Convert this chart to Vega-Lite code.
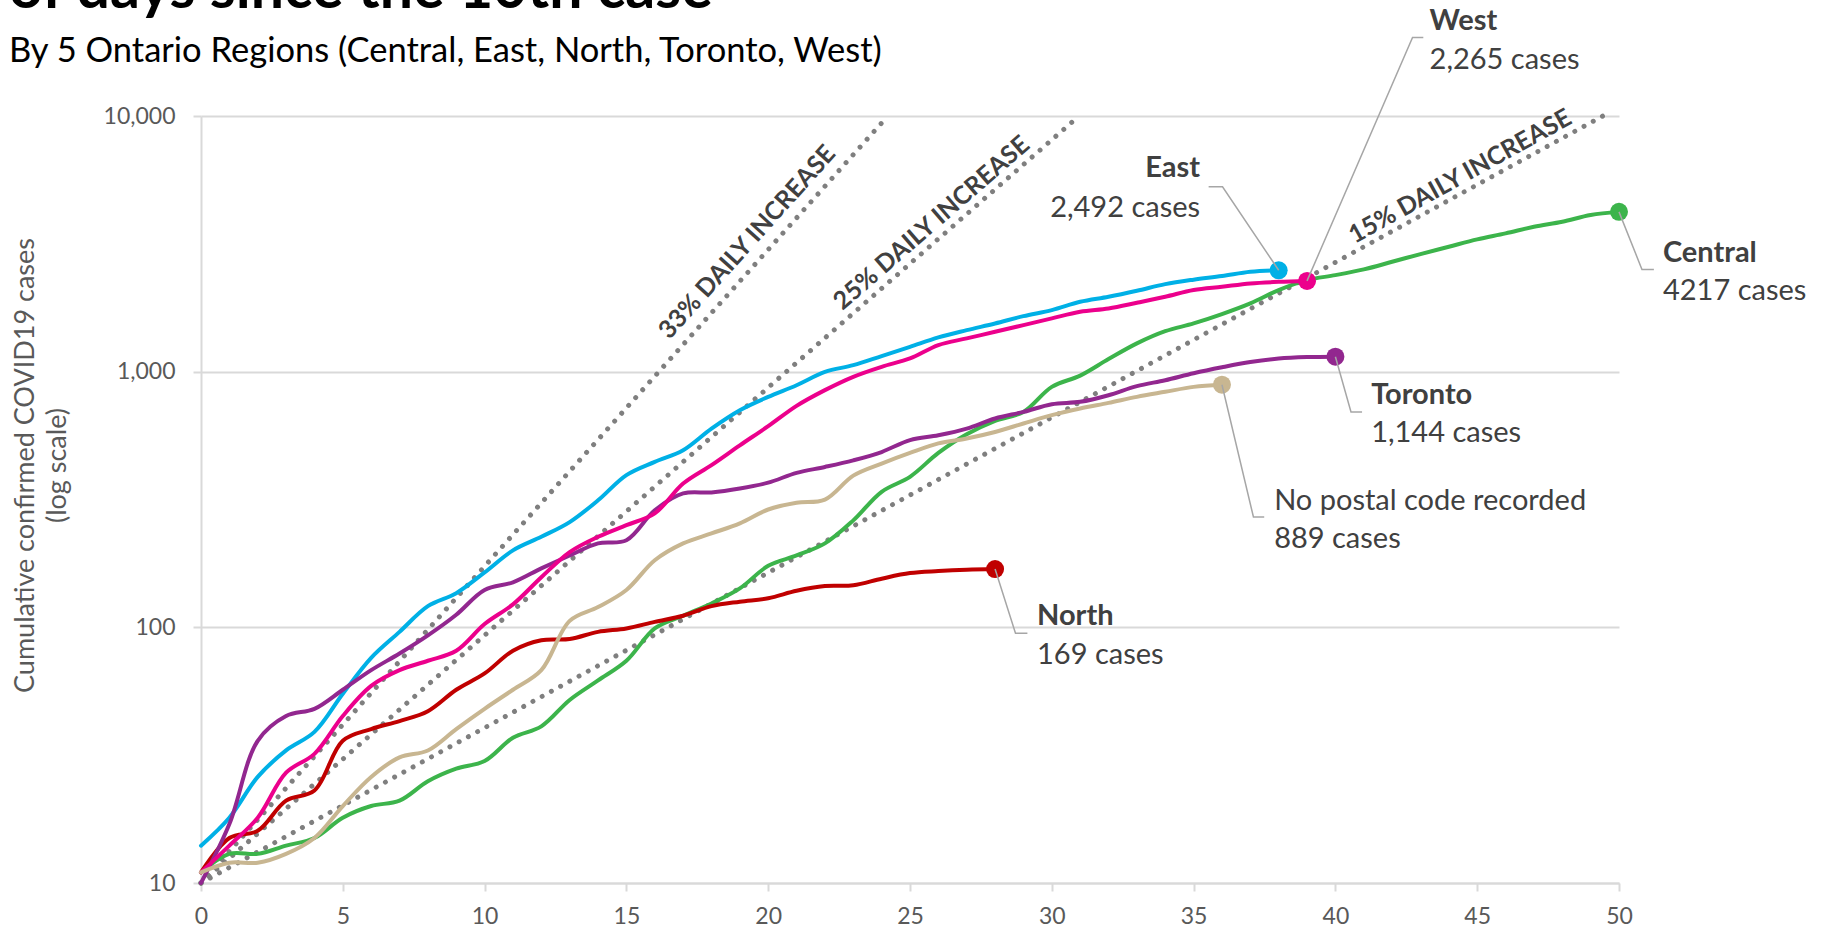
{
  "$schema": "https://vega.github.io/schema/vega-lite/v6.json",
  "width": 1418,
  "height": 767,
  "autosize": {"type": "none"},
  "padding": {"left": 201, "top": 116, "right": 206, "bottom": 47},
  "background": "#ffffff",
  "title": {
    "text": "of days since the 10th case",
    "subtitle": "By 5 Ontario Regions (Central, East, North, Toronto, West)",
    "anchor": "start",
    "frame": "group",
    "dx": -192,
    "offset": -62,
    "font": "Lato",
    "fontSize": 59,
    "fontWeight": "bold",
    "color": "#000000",
    "subtitleFont": "Lato",
    "subtitleFontSize": 34.5,
    "subtitleColor": "#000000",
    "subtitlePadding": 15
  },
  "config": {
    "font": "Lato",
    "view": {"stroke": null},
    "axis": {
      "domainColor": "#d9d9d9",
      "domainWidth": 2,
      "tickColor": "#d9d9d9",
      "tickWidth": 2,
      "tickSize": 8,
      "gridColor": "#d9d9d9",
      "gridWidth": 2,
      "labelColor": "#595959",
      "labelFont": "Lato",
      "labelFontSize": 23,
      "titleColor": "#595959",
      "titleFont": "Lato",
      "titleFontWeight": "normal"
    }
  },
  "datasets": {
    "cases": [
      {"region":"Central","day":0,"cases":11},{"region":"Central","day":1,"cases":13},{"region":"Central","day":2,"cases":13},{"region":"Central","day":3,"cases":14},{"region":"Central","day":4,"cases":15},{"region":"Central","day":5,"cases":18},{"region":"Central","day":6,"cases":20},{"region":"Central","day":7,"cases":21},{"region":"Central","day":8,"cases":25},{"region":"Central","day":9,"cases":28},{"region":"Central","day":10,"cases":30},{"region":"Central","day":11,"cases":37},{"region":"Central","day":12,"cases":41},{"region":"Central","day":13,"cases":52},{"region":"Central","day":14,"cases":62},{"region":"Central","day":15,"cases":74},{"region":"Central","day":16,"cases":99},{"region":"Central","day":17,"cases":111},{"region":"Central","day":18,"cases":124},{"region":"Central","day":19,"cases":142},{"region":"Central","day":20,"cases":174},{"region":"Central","day":21,"cases":191},{"region":"Central","day":22,"cases":213},{"region":"Central","day":23,"cases":262},{"region":"Central","day":24,"cases":339},{"region":"Central","day":25,"cases":388},{"region":"Central","day":26,"cases":481},{"region":"Central","day":27,"cases":569},{"region":"Central","day":28,"cases":642},{"region":"Central","day":29,"cases":696},{"region":"Central","day":30,"cases":872},{"region":"Central","day":31,"cases":965},{"region":"Central","day":32,"cases":1120},{"region":"Central","day":33,"cases":1290},{"region":"Central","day":34,"cases":1440},{"region":"Central","day":35,"cases":1544},{"region":"Central","day":36,"cases":1679},{"region":"Central","day":37,"cases":1849},{"region":"Central","day":38,"cases":2085},{"region":"Central","day":39,"cases":2280},{"region":"Central","day":40,"cases":2385},{"region":"Central","day":41,"cases":2512},{"region":"Central","day":42,"cases":2690},{"region":"Central","day":43,"cases":2884},{"region":"Central","day":44,"cases":3081},{"region":"Central","day":45,"cases":3291},{"region":"Central","day":46,"cases":3474},{"region":"Central","day":47,"cases":3688},{"region":"Central","day":48,"cases":3859},{"region":"Central","day":49,"cases":4099},{"region":"Central","day":50,"cases":4217},
      {"region":"East","day":0,"cases":14},{"region":"East","day":1,"cases":18},{"region":"East","day":2,"cases":26},{"region":"East","day":3,"cases":33},{"region":"East","day":4,"cases":39},{"region":"East","day":5,"cases":55},{"region":"East","day":6,"cases":76},{"region":"East","day":7,"cases":96},{"region":"East","day":8,"cases":121},{"region":"East","day":9,"cases":136},{"region":"East","day":10,"cases":164},{"region":"East","day":11,"cases":200},{"region":"East","day":12,"cases":226},{"region":"East","day":13,"cases":258},{"region":"East","day":14,"cases":314},{"region":"East","day":15,"cases":394},{"region":"East","day":16,"cases":444},{"region":"East","day":17,"cases":493},{"region":"East","day":18,"cases":599},{"region":"East","day":19,"cases":707},{"region":"East","day":20,"cases":797},{"region":"East","day":21,"cases":885},{"region":"East","day":22,"cases":998},{"region":"East","day":23,"cases":1060},{"region":"East","day":24,"cases":1150},{"region":"East","day":25,"cases":1250},{"region":"East","day":26,"cases":1361},{"region":"East","day":27,"cases":1453},{"region":"East","day":28,"cases":1544},{"region":"East","day":29,"cases":1649},{"region":"East","day":30,"cases":1741},{"region":"East","day":31,"cases":1876},{"region":"East","day":32,"cases":1963},{"region":"East","day":33,"cases":2072},{"region":"East","day":34,"cases":2200},{"region":"East","day":35,"cases":2290},{"region":"East","day":36,"cases":2365},{"region":"East","day":37,"cases":2459},{"region":"East","day":38,"cases":2492},
      {"region":"North","day":0,"cases":11},{"region":"North","day":1,"cases":15},{"region":"North","day":2,"cases":16},{"region":"North","day":3,"cases":21},{"region":"North","day":4,"cases":23},{"region":"North","day":5,"cases":36},{"region":"North","day":6,"cases":40},{"region":"North","day":7,"cases":43},{"region":"North","day":8,"cases":47},{"region":"North","day":9,"cases":57},{"region":"North","day":10,"cases":66},{"region":"North","day":11,"cases":81},{"region":"North","day":12,"cases":89},{"region":"North","day":13,"cases":90},{"region":"North","day":14,"cases":96},{"region":"North","day":15,"cases":99},{"region":"North","day":16,"cases":105},{"region":"North","day":17,"cases":111},{"region":"North","day":18,"cases":121},{"region":"North","day":19,"cases":126},{"region":"North","day":20,"cases":130},{"region":"North","day":21,"cases":139},{"region":"North","day":22,"cases":145},{"region":"North","day":23,"cases":146},{"region":"North","day":24,"cases":155},{"region":"North","day":25,"cases":163},{"region":"North","day":26,"cases":166},{"region":"North","day":27,"cases":168},{"region":"North","day":28,"cases":169},
      {"region":"Toronto","day":0,"cases":10},{"region":"Toronto","day":1,"cases":17},{"region":"Toronto","day":2,"cases":36},{"region":"Toronto","day":3,"cases":45},{"region":"Toronto","day":4,"cases":48},{"region":"Toronto","day":5,"cases":57},{"region":"Toronto","day":6,"cases":68},{"region":"Toronto","day":7,"cases":79},{"region":"Toronto","day":8,"cases":93},{"region":"Toronto","day":9,"cases":112},{"region":"Toronto","day":10,"cases":140},{"region":"Toronto","day":11,"cases":150},{"region":"Toronto","day":12,"cases":170},{"region":"Toronto","day":13,"cases":191},{"region":"Toronto","day":14,"cases":213},{"region":"Toronto","day":15,"cases":219},{"region":"Toronto","day":16,"cases":287},{"region":"Toronto","day":17,"cases":334},{"region":"Toronto","day":18,"cases":337},{"region":"Toronto","day":19,"cases":349},{"region":"Toronto","day":20,"cases":368},{"region":"Toronto","day":21,"cases":402},{"region":"Toronto","day":22,"cases":424},{"region":"Toronto","day":23,"cases":450},{"region":"Toronto","day":24,"cases":485},{"region":"Toronto","day":25,"cases":540},{"region":"Toronto","day":26,"cases":564},{"region":"Toronto","day":27,"cases":599},{"region":"Toronto","day":28,"cases":656},{"region":"Toronto","day":29,"cases":696},{"region":"Toronto","day":30,"cases":746},{"region":"Toronto","day":31,"cases":762},{"region":"Toronto","day":32,"cases":809},{"region":"Toronto","day":33,"cases":878},{"region":"Toronto","day":34,"cases":926},{"region":"Toronto","day":35,"cases":986},{"region":"Toronto","day":36,"cases":1040},{"region":"Toronto","day":37,"cases":1090},{"region":"Toronto","day":38,"cases":1125},{"region":"Toronto","day":39,"cases":1140},{"region":"Toronto","day":40,"cases":1144},
      {"region":"West","day":0,"cases":11},{"region":"West","day":1,"cases":14},{"region":"West","day":2,"cases":18},{"region":"West","day":3,"cases":27},{"region":"West","day":4,"cases":32},{"region":"West","day":5,"cases":45},{"region":"West","day":6,"cases":59},{"region":"West","day":7,"cases":68},{"region":"West","day":8,"cases":74},{"region":"West","day":9,"cases":81},{"region":"West","day":10,"cases":103},{"region":"West","day":11,"cases":123},{"region":"West","day":12,"cases":157},{"region":"West","day":13,"cases":197},{"region":"West","day":14,"cases":226},{"region":"West","day":15,"cases":251},{"region":"West","day":16,"cases":279},{"region":"West","day":17,"cases":365},{"region":"West","day":18,"cases":431},{"region":"West","day":19,"cases":515},{"region":"West","day":20,"cases":612},{"region":"West","day":21,"cases":735},{"region":"West","day":22,"cases":847},{"region":"West","day":23,"cases":955},{"region":"West","day":24,"cases":1045},{"region":"West","day":25,"cases":1126},{"region":"West","day":26,"cases":1270},{"region":"West","day":27,"cases":1349},{"region":"West","day":28,"cases":1432},{"region":"West","day":29,"cases":1521},{"region":"West","day":30,"cases":1616},{"region":"West","day":31,"cases":1715},{"region":"West","day":32,"cases":1767},{"region":"West","day":33,"cases":1860},{"region":"West","day":34,"cases":1963},{"region":"West","day":35,"cases":2085},{"region":"West","day":36,"cases":2148},{"region":"West","day":37,"cases":2214},{"region":"West","day":38,"cases":2245},{"region":"West","day":39,"cases":2265},
      {"region":"No postal code","day":0,"cases":11},{"region":"No postal code","day":1,"cases":12},{"region":"No postal code","day":2,"cases":12},{"region":"No postal code","day":3,"cases":13},{"region":"No postal code","day":4,"cases":15},{"region":"No postal code","day":5,"cases":20},{"region":"No postal code","day":6,"cases":26},{"region":"No postal code","day":7,"cases":31},{"region":"No postal code","day":8,"cases":33},{"region":"No postal code","day":9,"cases":40},{"region":"No postal code","day":10,"cases":48},{"region":"No postal code","day":11,"cases":57},{"region":"No postal code","day":12,"cases":68},{"region":"No postal code","day":13,"cases":106},{"region":"No postal code","day":14,"cases":120},{"region":"No postal code","day":15,"cases":140},{"region":"No postal code","day":16,"cases":183},{"region":"No postal code","day":17,"cases":213},{"region":"No postal code","day":18,"cases":233},{"region":"No postal code","day":19,"cases":255},{"region":"No postal code","day":20,"cases":289},{"region":"No postal code","day":21,"cases":307},{"region":"No postal code","day":22,"cases":316},{"region":"No postal code","day":23,"cases":392},{"region":"No postal code","day":24,"cases":437},{"region":"No postal code","day":25,"cases":481},{"region":"No postal code","day":26,"cases":524},{"region":"No postal code","day":27,"cases":548},{"region":"No postal code","day":28,"cases":581},{"region":"No postal code","day":29,"cases":627},{"region":"No postal code","day":30,"cases":676},{"region":"No postal code","day":31,"cases":718},{"region":"No postal code","day":32,"cases":755},{"region":"No postal code","day":33,"cases":797},{"region":"No postal code","day":34,"cases":834},{"region":"No postal code","day":35,"cases":872},{"region":"No postal code","day":36,"cases":889}
    ],
    "growth": [
      {"rate":"33%","day":0,"cases":10},{"rate":"33%","day":24.22,"cases":10000},
      {"rate":"25%","day":0,"cases":10},{"rate":"25%","day":30.96,"cases":10000},
      {"rate":"15%","day":0,"cases":10},{"rate":"15%","day":49.43,"cases":10000}
    ],
    "growthLabels": [
      {"rate":"33%","day":19.26,"cases":3211,"text":"33% DAILY INCREASE"},
      {"rate":"25%","day":25.76,"cases":3815,"text":"25% DAILY INCREASE"},
      {"rate":"15%","day":44.4,"cases":5807,"text":"15% DAILY INCREASE"}
    ],
    "leaders": [
      {"region":"East","seq":0,"day":38,"cases":2492},{"region":"East","seq":1,"day":36.02,"cases":5288},{"region":"East","seq":2,"day":35.53,"cases":5288},
      {"region":"West","seq":0,"day":39,"cases":2265},{"region":"West","seq":1,"day":42.72,"cases":20296},{"region":"West","seq":2,"day":43.1,"cases":20296},
      {"region":"Central","seq":0,"day":50,"cases":4217},{"region":"Central","seq":1,"day":50.81,"cases":2511},{"region":"Central","seq":2,"day":51.23,"cases":2511},
      {"region":"Toronto","seq":0,"day":40,"cases":1144},{"region":"Toronto","seq":1,"day":40.55,"cases":696},{"region":"Toronto","seq":2,"day":40.94,"cases":696},
      {"region":"No postal code","seq":0,"day":36,"cases":889},{"region":"No postal code","seq":1,"day":37.11,"cases":270},{"region":"No postal code","seq":2,"day":37.49,"cases":270},
      {"region":"North","seq":0,"day":28,"cases":169},{"region":"North","seq":1,"day":28.72,"cases":94.9},{"region":"North","seq":2,"day":29.14,"cases":94.9}
    ],
    "labels": [
      {"region":"East","kind":"name","day":35.23,"cases":5768,"text":"East"},
      {"region":"East","kind":"count","day":35.23,"cases":4024,"text":"2,492 cases"},
      {"region":"West","kind":"name","day":43.32,"cases":21713,"text":"West"},
      {"region":"West","kind":"count","day":43.32,"cases":15276,"text":"2,265 cases"},
      {"region":"Central","kind":"name","day":51.55,"cases":2689,"text":"Central"},
      {"region":"Central","kind":"count","day":51.55,"cases":1904,"text":"4217 cases"},
      {"region":"Toronto","kind":"name","day":41.26,"cases":750,"text":"Toronto"},
      {"region":"Toronto","kind":"count","day":41.26,"cases":530,"text":"1,144 cases"},
      {"region":"No postal code","kind":"note","day":37.84,"cases":287,"text":"No postal code recorded"},
      {"region":"No postal code","kind":"count","day":37.84,"cases":204,"text":"889 cases"},
      {"region":"North","kind":"name","day":29.48,"cases":102,"text":"North"},
      {"region":"North","kind":"count","day":29.48,"cases":72,"text":"169 cases"}
    ]
  },
  "encoding": {
    "x": {
      "field": "day",
      "type": "quantitative",
      "scale": {"domain": [0, 50], "nice": false, "zero": false},
      "axis": {
        "values": [0, 5, 10, 15, 20, 25, 30, 35, 40, 45, 50],
        "grid": false,
        "title": null,
        "labelPadding": 14,
        "labelFlush": false,
        "labelOverlap": false
      }
    },
    "y": {
      "field": "cases",
      "type": "quantitative",
      "scale": {"type": "log", "domain": [10, 10000], "nice": false},
      "axis": {
        "values": [10, 100, 1000, 10000],
        "format": ",",
        "grid": true,
        "labelPadding": 18,
        "title": ["Cumulative confirmed COVID19 cases", "(log scale)"],
        "titleFontSize": 27,
        "titleLineHeight": 32,
        "titleAngle": 270,
        "titleAlign": "center",
        "titleBaseline": "alphabetic",
        "titleX": -168,
        "titleY": 349
      }
    }
  },
  "layer": [
    {
      "data": {"name": "growth"},
      "mark": {"type": "line", "color": "#7f7f7f", "strokeWidth": 5, "strokeCap": "round", "strokeDash": [0.01, 10.5]},
      "encoding": {"detail": {"field": "rate"}}
    },
    {
      "data": {"name": "growthLabels"},
      "transform": [{"filter": "datum.rate === '33%'"}],
      "mark": {"type": "text", "angle": 312, "align": "center", "baseline": "middle", "font": "Lato", "fontWeight": "bold", "fontSize": 25, "color": "#404040"},
      "encoding": {"text": {"field": "text"}}
    },
    {
      "data": {"name": "growthLabels"},
      "transform": [{"filter": "datum.rate === '25%'"}],
      "mark": {"type": "text", "angle": 319, "align": "center", "baseline": "middle", "font": "Lato", "fontWeight": "bold", "fontSize": 25, "color": "#404040"},
      "encoding": {"text": {"field": "text"}}
    },
    {
      "data": {"name": "growthLabels"},
      "transform": [{"filter": "datum.rate === '15%'"}],
      "mark": {"type": "text", "angle": 331, "align": "center", "baseline": "middle", "font": "Lato", "fontWeight": "bold", "fontSize": 25, "color": "#404040"},
      "encoding": {"text": {"field": "text"}}
    },
    {
      "data": {"name": "cases"},
      "mark": {"type": "line", "strokeWidth": 4, "interpolate": "catmull-rom", "strokeCap": "round", "strokeJoin": "round"},
      "encoding": {
        "color": {
          "field": "region",
          "type": "nominal",
          "scale": {
            "domain": ["Central", "East", "North", "Toronto", "West", "No postal code"],
            "range": ["#3CB44B", "#00B0E6", "#C00000", "#92278F", "#EC008C", "#C8B691"]
          },
          "legend": null
        }
      }
    },
    {
      "data": {"name": "cases"},
      "transform": [
        {"joinaggregate": [{"op": "max", "field": "day", "as": "lastDay"}], "groupby": ["region"]},
        {"filter": "datum.day === datum.lastDay"}
      ],
      "mark": {"type": "point", "filled": true, "size": 324, "opacity": 1},
      "encoding": {
        "color": {"field": "region", "type": "nominal", "legend": null}
      }
    },
    {
      "data": {"name": "leaders"},
      "mark": {"type": "line", "color": "#a6a6a6", "strokeWidth": 1.5},
      "encoding": {
        "detail": {"field": "region"},
        "order": {"field": "seq", "type": "quantitative"}
      }
    },
    {
      "data": {"name": "labels"},
      "transform": [{"filter": "datum.kind === 'name' && datum.region !== 'East'"}],
      "mark": {"type": "text", "align": "left", "baseline": "alphabetic", "font": "Lato", "fontWeight": "bold", "fontSize": 29, "color": "#404040"},
      "encoding": {"text": {"field": "text"}}
    },
    {
      "data": {"name": "labels"},
      "transform": [{"filter": "datum.kind === 'name' && datum.region === 'East'"}],
      "mark": {"type": "text", "align": "right", "baseline": "alphabetic", "font": "Lato", "fontWeight": "bold", "fontSize": 29, "color": "#404040"},
      "encoding": {"text": {"field": "text"}}
    },
    {
      "data": {"name": "labels"},
      "transform": [{"filter": "datum.kind !== 'name' && datum.region !== 'East'"}],
      "mark": {"type": "text", "align": "left", "baseline": "alphabetic", "font": "Lato", "fontSize": 29, "color": "#404040"},
      "encoding": {"text": {"field": "text"}}
    },
    {
      "data": {"name": "labels"},
      "transform": [{"filter": "datum.kind !== 'name' && datum.region === 'East'"}],
      "mark": {"type": "text", "align": "right", "baseline": "alphabetic", "font": "Lato", "fontSize": 29, "color": "#404040"},
      "encoding": {"text": {"field": "text"}}
    }
  ]
}
